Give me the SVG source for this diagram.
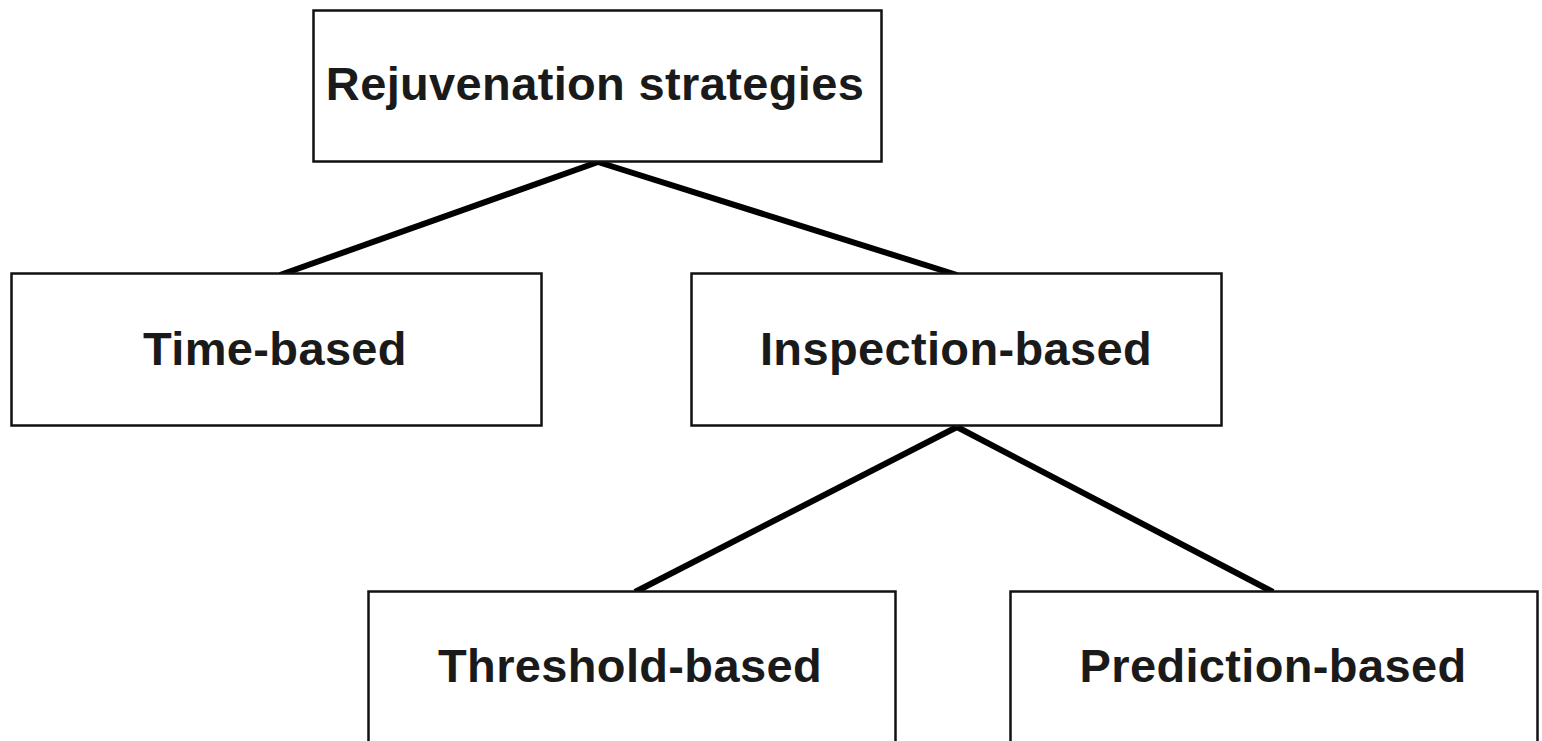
<svg xmlns="http://www.w3.org/2000/svg" width="1542" height="741" viewBox="0 0 1542 741">
  <style>
    .box { fill: #ffffff; stroke: #111111; stroke-width: 2.5; }
    .label { font-family: "Liberation Sans", Arial, sans-serif; font-weight: bold; font-size: 47px; letter-spacing: 0.35px; fill: #1a1a1a; text-anchor: middle; }
    .edge { stroke: #000000; stroke-width: 6; fill: none; }
  </style>
  <rect width="1542" height="741" fill="#ffffff"/>
  <g id="connectors">
    <line class="edge" x1="598" y1="162" x2="280" y2="275"/>
    <line class="edge" x1="598" y1="162" x2="957" y2="275"/>
    <line class="edge" x1="957" y1="427" x2="635" y2="592"/>
    <line class="edge" x1="957" y1="427" x2="1273" y2="592"/>
  </g>
  <g id="node-root">
    <rect class="box" x="313.5" y="10.5" width="568" height="151"/>
    <text class="label" x="595" y="100">Rejuvenation strategies</text>
  </g>
  <g id="node-time">
    <rect class="box" x="11.5" y="273.5" width="530" height="152"/>
    <text class="label" x="275" y="365">Time-based</text>
  </g>
  <g id="node-inspection">
    <rect class="box" x="691.5" y="273.5" width="530" height="152"/>
    <text class="label" x="956" y="365">Inspection-based</text>
  </g>
  <g id="node-threshold">
    <rect class="box" x="368.5" y="591.5" width="527" height="160"/>
    <text class="label" x="630" y="682">Threshold-based</text>
  </g>
  <g id="node-prediction">
    <rect class="box" x="1010.5" y="591.5" width="527" height="160"/>
    <text class="label" x="1273" y="682">Prediction-based</text>
  </g>
</svg>
